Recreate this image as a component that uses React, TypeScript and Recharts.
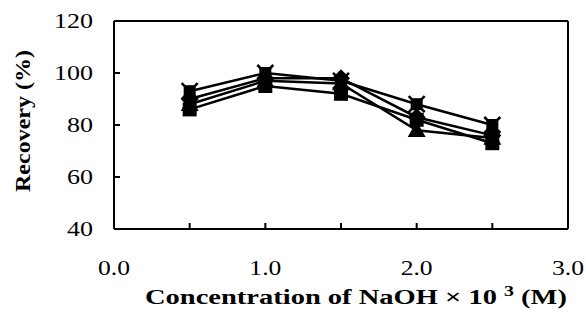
import React from 'react';
import { LineChart, Line, XAxis, YAxis, ReferenceLine } from 'recharts';

const concentrations = [0.5, 1.0, 1.5, 2.0, 2.5];
const seriesStar = [93, 100, 97, 88, 80];
const seriesDiamond = [90, 98, 98, 83, 76];
const seriesTriangle = [88, 97, 96, 78, 75];
const seriesSquare = [86, 95, 92, 82, 73];
const xTicks = [0, 0.5, 1.0, 1.5, 2.0, 2.5, 3.0];
const xTickLabels = ['0.0', '', '1.0', '', '2.0', '', '3.0'];
const yTicks = [40, 60, 80, 100, 120];

const data = concentrations.map((c, i) => ({
  c,
  s1: seriesStar[i],
  s2: seriesDiamond[i],
  s3: seriesTriangle[i],
  s4: seriesSquare[i],
}));

const FONT = '"Liberation Serif", "Times New Roman", serif';

const SquareDot = (props: any) => {
  const { cx, cy } = props;
  if (cx == null || cy == null) return null;
  return <rect x={cx - 7} y={cy - 7} width={14} height={14} fill="#000" />;
};
const DiamondDot = (props: any) => {
  const { cx, cy } = props;
  if (cx == null || cy == null) return null;
  const r = 9;
  return <polygon points={`${cx},${cy - r} ${cx + r},${cy} ${cx},${cy + r} ${cx - r},${cy}`} fill="#000" />;
};
const TriangleDot = (props: any) => {
  const { cx, cy } = props;
  if (cx == null || cy == null) return null;
  const r = 9;
  return <polygon points={`${cx},${cy - r} ${cx + r},${cy + r * 0.75} ${cx - r},${cy + r * 0.75}`} fill="#000" />;
};
const StarSquareDot = (props: any) => {
  const { cx, cy } = props;
  if (cx == null || cy == null) return null;
  return (
    <g>
      <rect x={cx - 6} y={cy - 6} width={12} height={12} fill="#000" />
      <line x1={cx - 8} y1={cy - 8} x2={cx + 8} y2={cy + 8} stroke="#000" strokeWidth={2.5} />
      <line x1={cx - 8} y1={cy + 8} x2={cx + 8} y2={cy - 8} stroke="#000" strokeWidth={2.5} />
    </g>
  );
};

const YTick = (props: any) => {
  const { x, y, payload } = props;
  const s = String(payload.value);
  return (
    <text x={x} y={y} dy="0.35em" textAnchor="end" fontFamily={FONT} fontSize={21} fill="#000"
      textLength={s.length * 13} lengthAdjust="spacingAndGlyphs">
      {s}
    </text>
  );
};

const XTick = (props: any) => {
  const { x, y, payload } = props;
  const idx = xTicks.indexOf(payload.value);
  const s = idx >= 0 ? xTickLabels[idx] : '';
  if (!s) return <g />;
  return (
    <text x={x} y={y} dy="0.35em" textAnchor="middle" fontFamily={FONT} fontSize={21} fill="#000"
      textLength={32} lengthAdjust="spacingAndGlyphs">
      {s}
    </text>
  );
};

const XTitle = (props: any) => {
  const vb = props.viewBox || { x: 114, y: 229, width: 454, height: 60 };
  return (
    <text x={vb.x + 31} y={vb.y + 75} textAnchor="start" fontFamily={FONT} fontWeight="bold" fontSize={20} fill="#000"
      textLength={422} lengthAdjust="spacingAndGlyphs">
      <tspan>Concentration of NaOH × 10 </tspan>
      <tspan dy={-8} fontSize={14}>3</tspan>
      <tspan dy={8}> (M)</tspan>
    </text>
  );
};

const YTitle = () => {
  const cx = 23;
  const cy = 121;
  return (
    <text x={cx} y={cy} dy="0.35em" textAnchor="middle" transform={`rotate(-90, ${cx}, ${cy})`}
      fontFamily={FONT} fontWeight="bold" fontSize={20} fill="#000"
      textLength={142} lengthAdjust="spacingAndGlyphs">
      Recovery (%)
    </text>
  );
};

export default function App() {
  return (
    <div style={{ position: 'absolute', left: 0, top: 0, background: '#fff' }}>
      <LineChart width={586} height={329} data={data} margin={{ top: 21, right: 18, left: 54, bottom: 40 }}>
        <XAxis dataKey="c" type="number" domain={[0, 3]} ticks={xTicks} interval={0}
          axisLine={{ stroke: '#000', strokeWidth: 2 }} tickLine={{ stroke: '#000', strokeWidth: 2 }}
          tickSize={-6} tickMargin={45} tick={<XTick />} height={60} label={<XTitle />} />
        <YAxis type="number" domain={[40, 120]} ticks={yTicks} interval={0}
          axisLine={{ stroke: '#000', strokeWidth: 2 }} tickLine={{ stroke: '#000', strokeWidth: 2 }}
          tickSize={-6} tickMargin={27} tick={<YTick />} width={60} label={<YTitle />} />
        <ReferenceLine y={120} stroke="#000" strokeWidth={2} />
        <ReferenceLine x={3} stroke="#000" strokeWidth={2} />
        <Line dataKey="s1" stroke="#000" strokeWidth={2.5} dot={<StarSquareDot />} isAnimationActive={false} />
        <Line dataKey="s2" stroke="#000" strokeWidth={2.5} dot={<DiamondDot />} isAnimationActive={false} />
        <Line dataKey="s3" stroke="#000" strokeWidth={2.5} dot={<TriangleDot />} isAnimationActive={false} />
        <Line dataKey="s4" stroke="#000" strokeWidth={2.5} dot={<SquareDot />} isAnimationActive={false} />
      </LineChart>
    </div>
  );
}
